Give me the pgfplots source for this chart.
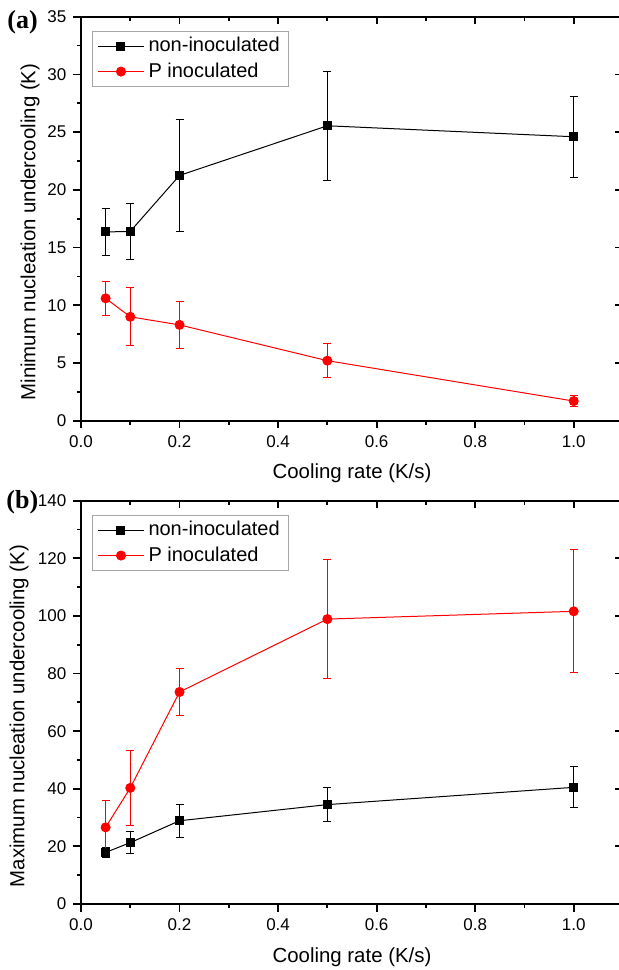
\documentclass[border=0pt]{standalone}
\usepackage{fontspec}
\setmainfont{Liberation Sans}
\newfontfamily\panelfont{Liberation Serif}
\usepackage{pgfplots}
\pgfplotsset{compat=1.18}

% 1 px of the reference = 0.5pt
\pgfplotsset{
  panel/.style={
    scale only axis, width=271pt,
    xmin=0, xmax=1.1,
    xtick={0,0.2,0.4,0.6,0.8,1.0},
    minor x tick num=1, minor y tick num=1,
    axis line style={line width=0.9pt},
    every tick/.style={black, line width=0.9pt},
    major tick length=3.8pt, minor tick length=2pt,
  },
  mainax/.style={panel,
    tick align=outside, xtick pos=left, ytick pos=left,
    /pgf/number format/assume math mode=true,
    ticklabel style={font=\fontsize{8.5}{10}\selectfont},
    xticklabel style={/pgf/number format/.cd, fixed, fixed zerofill, precision=1},
    label style={font=\fontsize{10.2}{12}\selectfont},
    legend style={at={(axis description cs:0.0203,0.965)}, anchor=north west,
      draw=gray!70, line width=0.5pt, font=\fontsize{10}{12}\selectfont,
      inner xsep=2.5pt, inner ysep=1pt, cells={anchor=west}},
    legend image code/.code={\draw[mark repeat=2,mark phase=2]
      plot coordinates {(0pt,0pt) (11.5pt,0pt) (23pt,0pt)};},
  },
  mirrorax/.style={panel,
    tick align=inside, xtick pos=right, ytick pos=right,
    xticklabels={}, yticklabels={},
  },
  blk/.style={black, line width=0.5pt, mark=square*, mark size=2pt,
    error bars/.cd, y dir=both, y explicit,
    error bar style={line width=0.5pt, black},
    error mark options={rotate=90, mark size=2pt, line width=0.5pt, black}},
  rd/.style={red, line width=0.5pt, mark=*, mark size=2.25pt,
    error bars/.cd, y dir=both, y explicit,
    error bar style={line width=0.5pt, red},
    error mark options={rotate=90, mark size=2pt, line width=0.5pt, red}},
}

\begin{document}
\begin{tikzpicture}
\useasboundingbox (0,0) rectangle (309.5pt,485pt);
\clip (0,0) rectangle (309.5pt,485pt);

% (a) minimum undercooling
\begin{axis}[mainax, at={(40.5pt,274.65pt)}, anchor=south west,
  height=202pt, ymin=0, ymax=35, ytick={0,5,...,35},
  xlabel={Cooling rate (K/s)},
  ylabel={Minimum nucleation undercooling (K)},
  xlabel style={at={(axis description cs:0.5,-0.129)}, anchor=center},
  ylabel style={at={(axis description cs:-0.094,0.467)}, anchor=center, rotate=0},
]
\addplot[blk] coordinates {
  (0.05,16.35) +- (0,2.0)
  (0.1,16.4)   +- (0,2.4)
  (0.2,21.25)  +- (0,4.85)
  (0.5,25.55)  +- (0,4.7)
  (1.0,24.6)   +- (0,3.5)
};
\addplot[rd] coordinates {
  (0.05,10.6) +- (0,1.5)
  (0.1,9.0)   +- (0,2.5)
  (0.2,8.3)   +- (0,2.05)
  (0.5,5.2)   +- (0,1.5)
  (1.0,1.7)   +- (0,0.48)
};
\legend{non-inoculated, P inoculated}
\end{axis}
\begin{axis}[mirrorax, at={(40.5pt,274.65pt)}, anchor=south west,
  height=202pt, ymin=0, ymax=35, ytick={0,5,...,35}]
\end{axis}

% (b) maximum undercooling
\begin{axis}[mainax, at={(40.5pt,33pt)}, anchor=south west,
  height=201.65pt, ymin=0, ymax=140, ytick={0,20,...,140},
  xlabel={Cooling rate (K/s)},
  ylabel={Maximum nucleation undercooling (K)},
  xlabel style={at={(axis description cs:0.5,-0.131)}, anchor=center},
  ylabel style={at={(axis description cs:-0.114,0.466)}, anchor=center, rotate=0},
]
\addplot[blk] coordinates {
  (0.05,17.9) +- (0,1.8)
  (0.1,21.3)  +- (0,3.75)
  (0.2,28.9)  +- (0,5.7)
  (0.5,34.5)  +- (0,6.0)
  (1.0,40.5)  +- (0,7.1)
};
\addplot[rd] coordinates {
  (0.05,26.6)  +- (0,9.5)
  (0.1,40.3)   +- (0,12.9)
  (0.2,73.6)   +- (0,8.15)
  (0.5,98.9)   +- (0,20.6)
  (1.0,101.6)  +- (0,21.4)
};
\legend{non-inoculated, P inoculated}
\end{axis}
\begin{axis}[mirrorax, at={(40.5pt,33pt)}, anchor=south west,
  height=201.65pt, ymin=0, ymax=140, ytick={0,20,...,140}]
\end{axis}

\node[anchor=west, inner sep=0pt, font=\panelfont\bfseries\fontsize{13}{15}\selectfont] at (3.5pt,474pt) {(a)};
\node[anchor=west, inner sep=0pt, font=\panelfont\bfseries\fontsize{13}{15}\selectfont] at (3pt,234pt) {(b)};
\end{tikzpicture}
\end{document}
